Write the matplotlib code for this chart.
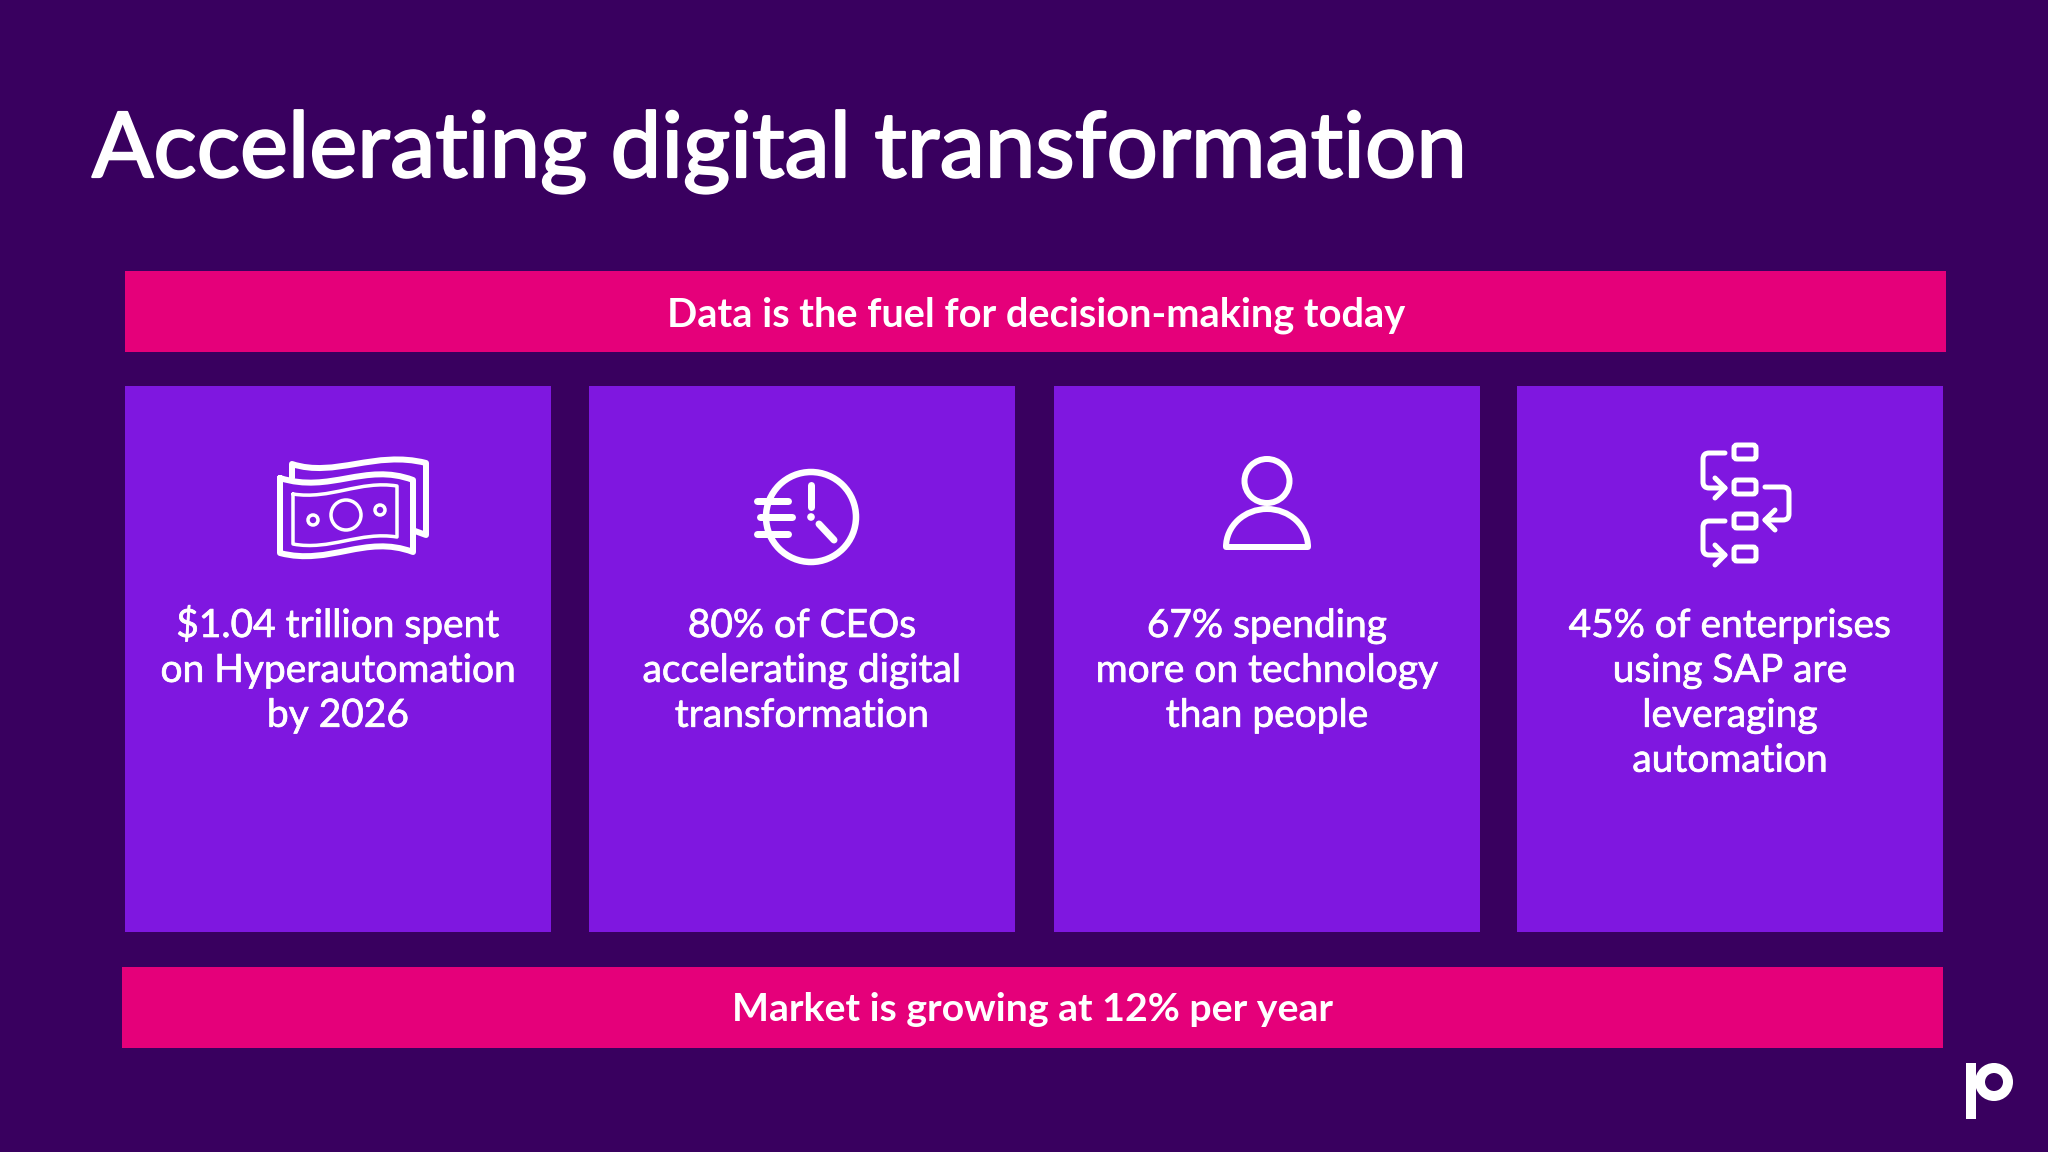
import numpy as np
import matplotlib
matplotlib.use('Agg')
import matplotlib.pyplot as plt
import matplotlib.patheffects as pe
from matplotlib.patches import Rectangle, Circle, Ellipse, FancyBboxPatch, PathPatch, Arc
from matplotlib.path import Path

# text of the slide
title = 'Accelerating digital transformation'
top_banner = 'Data is the fuel for decision-making today'
bottom_banner = 'Market is growing at 12% per year'
card_lines = [
    ['$1.04 trillion spent', 'on Hyperautomation', 'by 2026'],
    ['80% of CEOs', 'accelerating digital', 'transformation'],
    ['67% spending', 'more on technology', 'than people'],
    ['45% of enterprises', 'using SAP are', 'leveraging', 'automation'],
]
card_left = [125, 589, 1054, 1517]

BG = '#39005F'
CARD = '#7F17E0'
PINK = '#E5007A'
WHITE = 'white'
FONT = 'Lato'
px = 0.72  # one pixel in points at dpi=100

fig = plt.figure(figsize=(20.48, 11.52), dpi=100, facecolor=BG)
ax = fig.add_axes([0, 0, 1, 1])
ax.set_xlim(0, 2048)
ax.set_ylim(1152, 0)
ax.axis('off')


def thick(w):
    # Lato has no medium cut here, so fatten the regular one a little
    return [pe.withStroke(linewidth=w*px, foreground=WHITE)]


def line(pts, lw=5):
    xs, ys = zip(*pts)
    ax.plot(xs, ys, color=WHITE, lw=lw*px, solid_capstyle='round', solid_joinstyle='round')


def curve(verts, codes, lw=5):
    ax.add_patch(PathPatch(Path(verts, codes), fc='none', ec=WHITE, lw=lw*px,
                           capstyle='round', joinstyle='round'))


def ring(x, y, r, lw=5):
    ax.add_patch(Circle((x, y), r, fc='none', ec=WHITE, lw=lw*px))


# bars and cards
ax.add_patch(Rectangle((125, 271), 1821, 81, fc=PINK, ec='none'))
ax.add_patch(Rectangle((122, 967), 1821, 81, fc=PINK, ec='none'))
for x in card_left:
    ax.add_patch(Rectangle((x, 386), 426, 546, fc=CARD, ec='none'))

# texts
ax.text(92, 177, title, color=WHITE, fontsize=65.3, family=FONT, va='baseline', path_effects=thick(2.2))
ax.text(1036, 326, top_banner, color=WHITE, fontsize=28.6, family=FONT, weight='bold', ha='center', va='baseline')
ax.text(1033, 1021, bottom_banner, color=WHITE, fontsize=28.3, family=FONT, weight='bold', ha='center', va='baseline')
for x, lines in zip(card_left, card_lines):
    for i, s in enumerate(lines):
        ax.text(x + 213, 637 + i*44.9, s, color=WHITE, fontsize=28, family=FONT, ha='center', va='baseline',
                path_effects=thick(0.7))

# money icon
C4 = Path.CURVE4
M = Path.MOVETO
L = Path.LINETO
curve([(292, 478), (292, 464), (335, 478), (375, 450), (426, 463), (426, 535), (415, 531)],
      [M, L, C4, C4, C4, L, L], 6)
curve([(280, 478), (330, 494), (365, 462), (413, 480), (413, 552), (365, 534), (330, 566), (280, 553), (280, 478)],
      [M, C4, C4, C4, L, C4, C4, C4, L], 6)
curve([(293, 494), (330, 500), (360, 480), (397, 486), (397, 537), (360, 531), (330, 551), (293, 544), (293, 494)],
      [M, C4, C4, C4, L, C4, C4, C4, L], 3.5)
ring(346, 515, 15, 3.5)
ring(313, 520, 5, 3.5)
ring(380, 510, 5, 3.5)

# euro clock icon
ring(811, 517, 45, 6.5)
line([(757, 501), (788, 501)], 7)
line([(760, 517), (792, 517)], 7)
line([(757, 534), (788, 534)], 7)
line([(811, 485), (811, 507)], 7)
ax.add_patch(Circle((811, 517), 3.8, fc=WHITE, ec='none'))
line([(819, 524), (834, 540)], 7)

# person icon
ax.add_patch(Ellipse((1267, 481), 45, 44, fc='none', ec=WHITE, lw=6*px))
ax.add_patch(Arc((1267, 547), 82, 76, theta1=180, theta2=360, color=WHITE, lw=6*px))
line([(1226, 547), (1308, 547)], 6)

# flow icon
for y in [452, 487, 521, 554]:
    ax.add_patch(FancyBboxPatch((1736, y-5), 18, 10, boxstyle='round,pad=2,rounding_size=3',
                                fc='none', ec=WHITE, lw=5*px))
Q = Path.CURVE3
for y0, y1 in [(453, 488), (521, 555)]:
    curve([(1725, y0), (1709, y0), (1703, y0), (1703, y0+6), (1703, y1-6), (1703, y1), (1709, y1), (1725, y1)],
          [M, L, Q, Q, L, Q, Q, L], 5)
    line([(1715, y1-10), (1725, y1), (1715, y1+10)], 5)
curve([(1765, 487), (1783, 487), (1789, 487), (1789, 493), (1789, 514), (1789, 520), (1783, 520), (1765, 520)],
      [M, L, Q, Q, L, Q, Q, L], 5)
line([(1775, 510), (1765, 520), (1775, 530)], 5)

# logo
ax.add_patch(Rectangle((1966, 1063), 10, 56, fc=WHITE, ec='none'))
ring(1994, 1082, 14, 10)

fig.savefig('out.png', dpi=100, facecolor=BG)
